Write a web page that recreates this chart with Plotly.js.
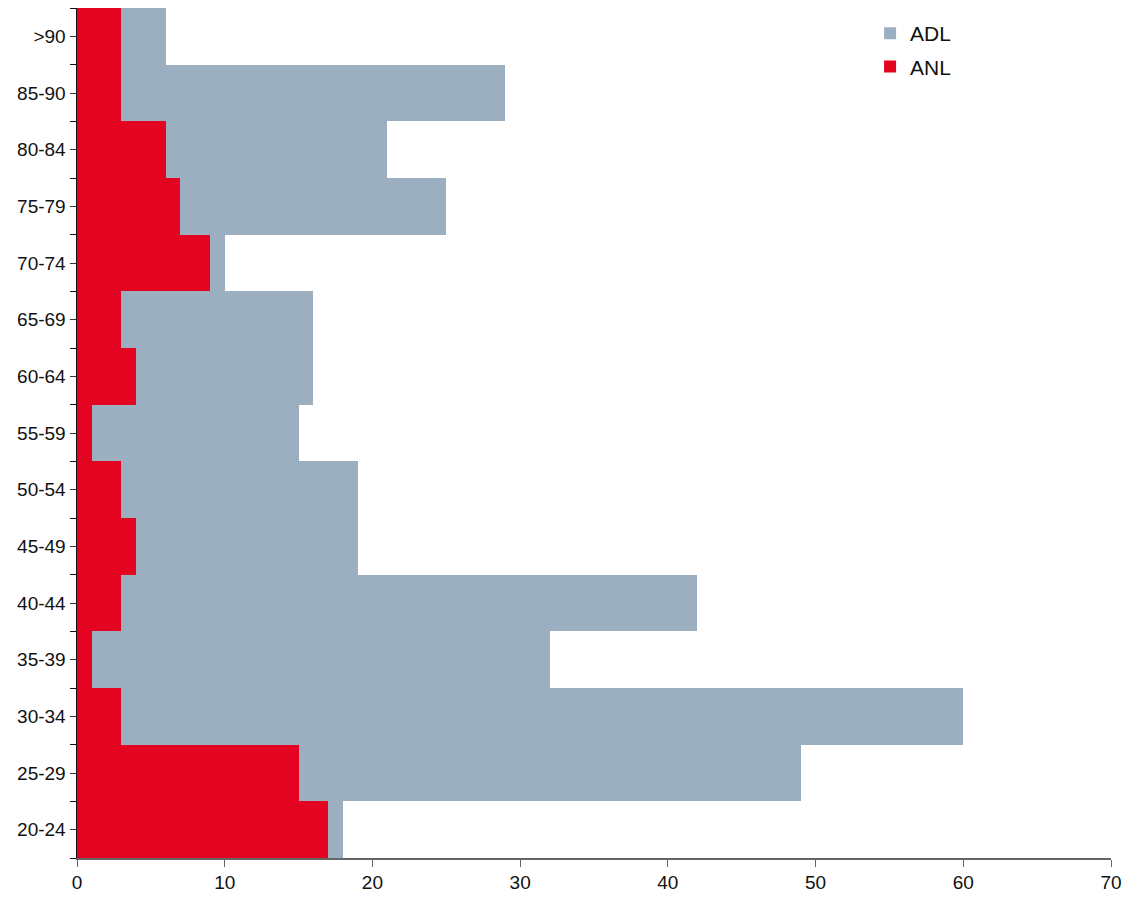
<!DOCTYPE html>
<html>
<head>
<meta charset="utf-8">
<script src="https://cdn.plot.ly/plotly-3.0.1.min.js"></script>
<style>html,body{margin:0;padding:0;background:#fff;}#chart{width:1130px;height:899px;}</style>
</head>
<body>
<div id="chart"></div>
<script>
const categories = ["20-24","25-29","30-34","35-39","40-44","45-49","50-54","55-59","60-64","65-69","70-74","75-79","80-84","85-90",">90"];
const adlValues = [18,49,60,32,42,19,19,15,16,16,10,25,21,29,6];
const anlValues = [17,15,3,1,3,4,3,1,4,3,9,7,6,3,3];
const xTicks = [0,10,20,30,40,50,60,70];

const idx = categories.map((c,i)=>i);

const traces = [
  {type:'bar', orientation:'h', name:'ADL', x:adlValues, y:idx, width:1, legend:'legend',
   marker:{color:'#9cafc0', line:{width:0}}},
  {type:'bar', orientation:'h', name:'ANL', x:anlValues, y:idx, width:1, legend:'legend2',
   marker:{color:'#e30421', line:{width:0}}}
];

const legendStyle = {xanchor:'left', yanchor:'top', bgcolor:'rgba(0,0,0,0)',
          font:{size:21, color:'#111'}, itemwidth:30};

const layout = {
  width:1130, height:899,
  margin:{l:77, r:19, t:8, b:41, pad:0},
  paper_bgcolor:'#fff', plot_bgcolor:'#fff',
  barmode:'overlay', bargap:0,
  font:{family:'"Liberation Sans", Arial, sans-serif', size:19, color:'#111'},
  showlegend:true,
  legend:Object.assign({x:0.767, y:0.994}, legendStyle),
  legend2:Object.assign({x:0.767, y:0.955}, legendStyle),
  xaxis:{range:[0,70], tickvals:xTicks, ticktext:xTicks.map(String), showgrid:false, zeroline:false,
         showline:true, linecolor:'#666', linewidth:1.5, ticks:'outside', ticklen:7, tickcolor:'#666',
         tickfont:{size:19}, fixedrange:true},
  yaxis:{range:[-0.5,14.5], tickvals:idx, ticktext:categories, showgrid:false, zeroline:false,
         showline:true, linecolor:'#111', linewidth:1.5, ticks:'outside', ticklen:6, tickcolor:'#333',
         tickfont:{size:19},
         minor:{tick0:0.5, dtick:1, ticks:'outside', ticklen:6, tickcolor:'#111', showgrid:false}}
};

Plotly.newPlot('chart', traces, layout, {displayModeBar:false, staticPlot:true});
</script>
</body>
</html>
